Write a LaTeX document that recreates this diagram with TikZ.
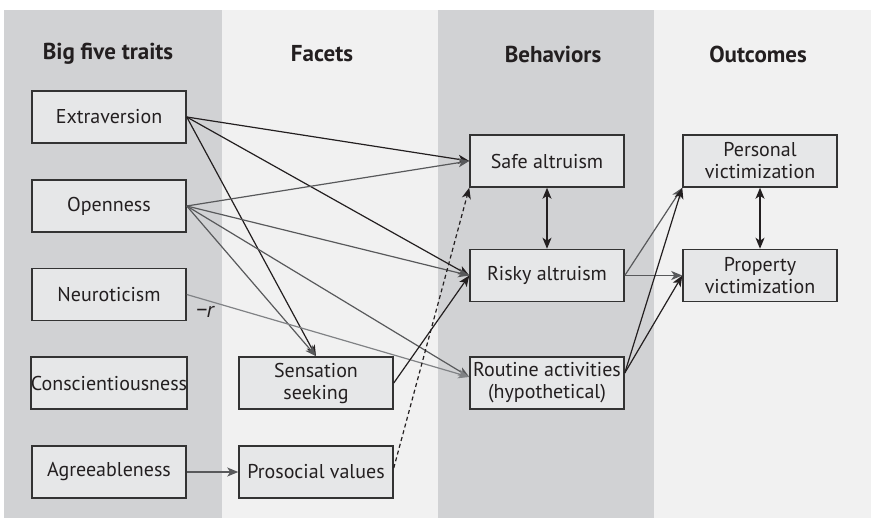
\documentclass[tikz,border=0pt]{standalone}
\usepackage{fontspec}
\setmainfont{PT Sans}
\usetikzlibrary{arrows.meta}
\definecolor{colDark}{RGB}{209,210,212}
\definecolor{colLight}{RGB}{241,241,241}
\definecolor{boxFill}{RGB}{230,231,232}
\definecolor{boxLine}{RGB}{51,51,51}
\definecolor{inkBlack}{RGB}{35,31,32}
\definecolor{inkGray}{RGB}{88,89,91}
\definecolor{inkLight}{RGB}{128,130,133}
\begin{document}
\begin{tikzpicture}[x=0.5pt, y=-0.5pt, line width=0.6pt,
    every node/.style={text=inkBlack, font=\fontsize{10}{11}\selectfont},
    varbox/.style={draw=boxLine, fill=boxFill, line width=0.75pt, minimum width=77pt,
      minimum height=26pt, inner sep=0pt, align=center},
    colhead/.style={font=\fontsize{11.5}{12}\selectfont\bfseries},
    tip/.style={-{Stealth[length=5.5pt, width=4.5pt, inset=1.5pt]}},
    twotip/.style={{Stealth[length=5.5pt, width=4.5pt, inset=1.5pt]}-{Stealth[length=5.5pt, width=4.5pt, inset=1.5pt]}}]
  \useasboundingbox (0,0) rectangle (871,519);
  % Column bands
  \fill[colDark]  (4,10)   rectangle (222,518);
  \fill[colLight] (222,10) rectangle (438,518);
  \fill[colDark]  (438,10) rectangle (654,518);
  \fill[colLight] (654,10) rectangle (871,518);
  % Column headings
  \node[colhead] (hbig) at (108,54) {Big five traits};
  \node[colhead] (hfac) at (322,54) {Facets};
  \node[colhead] (hbeh) at (553,54) {Behaviors};
  \node[colhead] (hout) at (758,54) {Outcomes};
  % Big five traits
  \node[varbox] (ext)   at (109,117)   {Extraversion};
  \node[varbox] (open)  at (109,206)   {Openness};
  \node[varbox] (neur)  at (109,294.5) {Neuroticism};
  \node[varbox] (consc) at (109,383)   {Conscientiousness};
  \node[varbox] (agree) at (109,472)   {Agreeableness};
  % Facets
  \node[varbox] (sens) at (316,383) {Sensation\\seeking};
  \node[varbox] (pros) at (316,472) {Prosocial values};
  % Behaviors
  \node[varbox] (safe)    at (547,161)   {Safe altruism};
  \node[varbox] (risky)   at (547,275.5) {Risky altruism};
  \node[varbox] (routine) at (547,383)   {Routine activities\\(hypothetical)};
  % Outcomes
  \node[varbox] (pers) at (760,161)   {Personal\\victimization};
  \node[varbox] (prop) at (760,275.5) {Property\\victimization};
  % Paths from extraversion
  \draw[tip, inkBlack] (ext.east) -- (safe.west);
  \draw[tip, inkBlack] (ext.east) -- (risky.west);
  \draw[tip, inkBlack] (ext.east) -- (sens.north);
  % Paths from openness
  \draw[tip, inkGray] (open.east) -- (safe.west);
  \draw[tip, inkGray] (open.east) -- (risky.west);
  \draw[tip, inkGray] (open.east) -- (sens.north);
  \draw[tip, inkGray] (open.east) -- ([yshift=3pt]routine.west);
  % Neuroticism, negative
  \draw[tip, inkLight] (neur.east) -- ([yshift=3pt]routine.west);
  \node[font=\fontsize{11}{12}\selectfont\itshape] (negr) at (205,312) {−r};
  % Agreeableness and facets
  \draw[tip, inkGray] (agree.east) -- (pros.west);
  \draw[tip, inkBlack] (sens.east) -- (risky.west);
  \draw[tip, inkBlack, dash pattern=on 2pt off 1.5pt] ([yshift=2pt]pros.east) -- (safe.south west);
  \draw[twotip, inkBlack] (safe.south) -- (risky.north);
  % Behaviors to outcomes
  \draw[tip, inkGray] (risky.east) -- (pers.south west);
  \draw[tip, inkGray] (risky.east) -- (prop.west);
  \draw[tip, inkBlack] ([yshift=5pt]routine.east) -- (pers.south west);
  \draw[tip, inkBlack] ([yshift=5pt]routine.east) -- (prop.west);
  \draw[twotip, inkBlack] (pers.south) -- (prop.north);
\end{tikzpicture}
\end{document}
